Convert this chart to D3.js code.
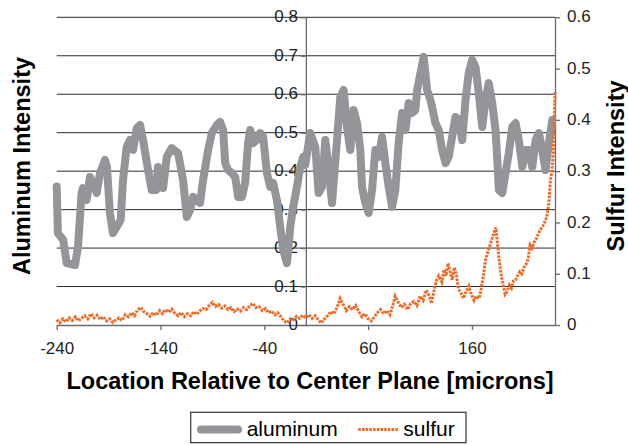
<!DOCTYPE html>
<html>
<head>
<meta charset="utf-8">
<script src="https://cdn.jsdelivr.net/npm/d3@7"></script>
<style>
  html, body { margin: 0; padding: 0; background: #ffffff; }
  svg { display: block; }
</style>
</head>
<body>
<svg id="chart" width="628" height="445"></svg>
<script>
// ---------- data ----------
const xTicks = [-240, -140, -40, 60, 160];
const leftTicks = [0, 0.1, 0.2, 0.3, 0.4, 0.5, 0.6, 0.7, 0.8];
const rightTicks = [0, 0.1, 0.2, 0.3, 0.4, 0.5, 0.6];
const seriesNames = ["aluminum", "sulfur"];

const aluminumX = [-240,-238.8,-233.7,-230.4,-222.4,-219.5,-216,-214.7,-211.1,-208,-204.8,-201.5,-198.3,-193.5,-191.6,-188.7,-185.8,-182.2,-178.4,-176.1,-172.6,-169.4,-166.5,-162.9,-159.7,-156.8,-152,-148.5,-144.3,-142.4,-140.4,-137.5,-134,-129.2,-123.1,-118.3,-114.7,-111.5,-108.6,-105,-101.9,-99,-94.1,-90.6,-85.8,-82.6,-79.7,-77.7,-74.9,-71.3,-68.1,-65.2,-61.6,-58.5,-55.6,-53.6,-50.7,-47.2,-44,-41.1,-37.5,-34.3,-31.4,-27.9,-24.7,-21.8,-18.2,-15,-12.2,-8.6,-5.4,-2.5,-0.6,4.2,9.1,12.3,15.5,18.7,21.9,25.2,26.7,30,33.2,36.4,39.6,42.8,46,49.3,52.5,54.1,57.3,60.5,63.8,66.9,70.1,73.4,76.6,79.8,83.1,86.2,89.4,92.7,95.9,99.1,102.3,105.5,107.2,110.4,113.5,116.8,120,121.6,124.8,128,131.3,134.5,137.6,140.9,144.1,147.3,150.6,153.8,156.9,160.2,163.4,166.6,169.9,173,176.2,179.5,182.7,184.3,185.9,189.2,192.3,195.5,198.8,202,205.2,208.5,211.6,214.8,218.1,221.3,224.5,227.7,230.9,234.1,237.4];
const aluminumY = [0.360,0.239,0.221,0.161,0.156,0.203,0.343,0.356,0.325,0.385,0.369,0.343,0.395,0.429,0.411,0.291,0.239,0.255,0.273,0.377,0.463,0.481,0.455,0.512,0.520,0.481,0.403,0.351,0.351,0.411,0.403,0.356,0.437,0.460,0.447,0.377,0.281,0.299,0.333,0.325,0.317,0.377,0.455,0.499,0.520,0.528,0.507,0.421,0.403,0.395,0.385,0.333,0.333,0.369,0.473,0.507,0.473,0.481,0.499,0.489,0.395,0.359,0.369,0.325,0.255,0.195,0.161,0.255,0.307,0.359,0.411,0.437,0.416,0.499,0.463,0.343,0.359,0.481,0.411,0.317,0.369,0.481,0.593,0.611,0.515,0.455,0.559,0.525,0.455,0.359,0.317,0.291,0.351,0.455,0.437,0.489,0.421,0.359,0.307,0.351,0.473,0.551,0.507,0.577,0.551,0.559,0.611,0.655,0.697,0.611,0.585,0.567,0.525,0.507,0.455,0.421,0.437,0.489,0.541,0.533,0.481,0.585,0.655,0.689,0.671,0.603,0.515,0.585,0.629,0.577,0.507,0.437,0.351,0.343,0.395,0.447,0.515,0.525,0.481,0.411,0.455,0.455,0.411,0.481,0.499,0.455,0.403,0.473,0.533];

const sulfurX = [-240,-237,-234,-231,-228,-225,-222,-219,-216,-213,-210,-207,-204,-201,-198,-195,-192,-189,-186,-183,-180,-177,-174,-171,-168,-165,-162,-159,-156,-153,-150,-147,-144,-141,-138,-135,-132,-129,-126,-123,-120,-117,-114,-111,-108,-105,-102,-99,-96,-93,-90,-87,-84,-81,-78,-75,-72,-69,-66,-63,-60,-57,-54,-51,-48,-45,-42,-39,-36,-33,-30,-27,-24,-21,-18,-15,-12,-9,-6,-3,0,3,6,9,12,15,18,21,24,27,30,33,36,39,42,45,48,51,54,57,60,63,66,69,72,75,78,81,84,86,89,92,95,98,101,104,107,110,113,116,119,121,124,126,128,131,133,135,137,139,141,143,145,147,150,152,154,157,159,162,164,167,169,171,173,175,178,180,183,185,186,188,190,192,194,196,198,200,202,204,206,208,210,212,214,216,218,220,222,224,226,228,230,232,234,235.5,237,238.5,239.3,240];
const sulfurY = [0.010,0.004,0.012,0.006,0.014,0.009,0.016,0.008,0.013,0.018,0.012,0.022,0.014,0.019,0.011,0.016,0.008,0.012,0.005,0.010,0.014,0.009,0.020,0.016,0.024,0.018,0.030,0.034,0.026,0.022,0.017,0.024,0.019,0.028,0.022,0.030,0.025,0.031,0.022,0.018,0.024,0.016,0.022,0.018,0.026,0.021,0.028,0.032,0.030,0.038,0.044,0.036,0.040,0.033,0.037,0.030,0.034,0.026,0.031,0.027,0.034,0.030,0.038,0.042,0.034,0.036,0.028,0.032,0.024,0.027,0.020,0.024,0.016,0.008,0.004,0.012,0.010,0.017,0.013,0.019,0.014,0.020,0.013,0.018,0.010,0.004,0.012,0.018,0.026,0.022,0.034,0.052,0.040,0.028,0.036,0.030,0.038,0.026,0.016,0.022,0.012,0.008,0.016,0.024,0.030,0.022,0.028,0.020,0.040,0.056,0.044,0.034,0.040,0.030,0.042,0.046,0.038,0.056,0.048,0.068,0.056,0.042,0.072,0.088,0.096,0.084,0.108,0.096,0.120,0.104,0.088,0.112,0.098,0.070,0.060,0.052,0.064,0.076,0.062,0.048,0.056,0.052,0.072,0.096,0.126,0.140,0.160,0.172,0.190,0.150,0.130,0.100,0.078,0.060,0.066,0.078,0.072,0.086,0.088,0.096,0.104,0.100,0.112,0.118,0.128,0.156,0.150,0.162,0.168,0.178,0.186,0.192,0.200,0.210,0.236,0.280,0.300,0.340,0.400,0.455];

// ---------- layout ----------
const svg = d3.select("#chart");
const x = d3.scaleLinear().domain([-240, 240]).range([56.7, 555]);
const yL = d3.scaleLinear().domain([0, 0.8]).range([325, 17.3]);
const yR = d3.scaleLinear().domain([0, 0.6]).range([325, 17.3]);

const tickFont = "'Liberation Sans', Arial, sans-serif";
const fmt = d => d === 0 ? "0" : d.toFixed(1);

// gridlines
svg.append("g").selectAll("line")
  .data(leftTicks.filter(d => d > 0))
  .join("line")
  .attr("x1", x(-240)).attr("x2", x(240))
  .attr("y1", d => yL(d)).attr("y2", d => yL(d))
  .attr("stroke", "#2b2b2b").attr("stroke-width", 1);

function styleAxis(g) {
  g.select(".domain").attr("stroke", "#6b6b6b").attr("stroke-width", 1.3);
  g.selectAll(".tick line").attr("stroke", "#6b6b6b").attr("stroke-width", 1.3);
  g.selectAll(".tick text").attr("fill", "#231f20")
    .style("font-family", tickFont).style("font-size", "17px");
}

// bottom axis
svg.append("g")
  .attr("transform", `translate(0,${yL(0)})`)
  .call(d3.axisBottom(x).tickValues(xTicks).tickSize(5).tickSizeOuter(0).tickPadding(12).tickFormat(d => String(d)))
  .call(styleAxis);

// left axis located at x = 0
svg.append("g")
  .attr("transform", `translate(${x(0)},0)`)
  .call(d3.axisLeft(yL).tickValues(leftTicks).tickSize(5).tickSizeOuter(0).tickPadding(3).tickFormat(fmt))
  .call(styleAxis)
  .call(g => g.selectAll(".tick text").attr("dy", "0.27em"));

// right axis
svg.append("g")
  .attr("transform", `translate(${x(240)},0)`)
  .call(d3.axisRight(yR).tickValues(rightTicks).tickSize(5).tickSizeOuter(0).tickPadding(7).tickFormat(fmt))
  .call(styleAxis)
  .call(g => g.selectAll(".tick text").attr("dy", "0.27em"));

// lines
const alData = aluminumX.map((v, i) => [v, aluminumY[i]]);
const suData = sulfurX.map((v, i) => [v, sulfurY[i]]);

svg.append("path")
  .datum(alData)
  .attr("fill", "none")
  .attr("stroke", "#939598")
  .attr("stroke-width", 8)
  .attr("stroke-linejoin", "round")
  .attr("stroke-linecap", "round")
  .attr("d", d3.line().x(d => x(d[0])).y(d => yL(d[1])));

svg.append("path")
  .datum(suData)
  .attr("fill", "none")
  .attr("stroke", "#f26a22")
  .attr("stroke-width", 3)
  .attr("stroke-dasharray", "2.5,1.2")
  .attr("d", d3.line().x(d => x(d[0])).y(d => yR(d[1])));

// titles
const titleFont = "'Liberation Sans', Arial, sans-serif";
svg.append("text")
  .attr("transform", "translate(30,166) rotate(-90)")
  .attr("text-anchor", "middle")
  .style("font-family", titleFont).style("font-weight", "bold").style("font-size", "23.5px")
  .attr("fill", "#000")
  .text("Aluminum Intensity");

svg.append("text")
  .attr("transform", "translate(624,166) rotate(-90)")
  .attr("text-anchor", "middle")
  .style("font-family", titleFont).style("font-weight", "bold").style("font-size", "23.5px")
  .attr("fill", "#000")
  .text("Sulfur Intensity");

svg.append("text")
  .attr("x", 310).attr("y", 389)
  .attr("text-anchor", "middle")
  .style("font-family", titleFont).style("font-weight", "bold").style("font-size", "23.5px")
  .attr("fill", "#000")
  .text("Location Relative to Center Plane [microns]");

// legend
const lg = svg.append("g");
lg.append("rect")
  .attr("x", 190.7).attr("y", 412.3).attr("width", 275.3).attr("height", 30.4)
  .attr("fill", "#fff").attr("stroke", "#333").attr("stroke-width", 1.2);
lg.append("line")
  .attr("x1", 201).attr("x2", 238).attr("y1", 429.5).attr("y2", 429.5)
  .attr("stroke", "#939598").attr("stroke-width", 8).attr("stroke-linecap", "round");
lg.append("text")
  .attr("x", 246.7).attr("y", 435.5)
  .style("font-family", titleFont).style("font-size", "21px").attr("fill", "#000")
  .text(seriesNames[0]);
lg.append("line")
  .attr("x1", 358.3).attr("x2", 398.3).attr("y1", 429.5).attr("y2", 429.5)
  .attr("stroke", "#f26a22").attr("stroke-width", 3).attr("stroke-dasharray", "2.5,1.2");
lg.append("text")
  .attr("x", 403.3).attr("y", 435.5)
  .style("font-family", titleFont).style("font-size", "21px").attr("fill", "#000")
  .text(seriesNames[1]);
</script>
</body>
</html>
